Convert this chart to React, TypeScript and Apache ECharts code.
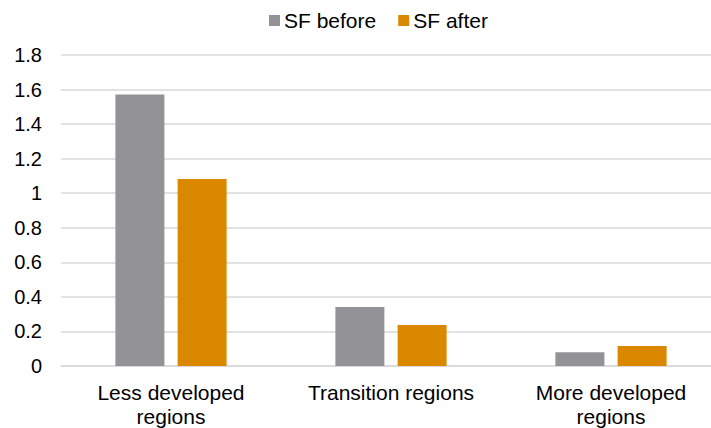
import React, { useEffect, useRef } from "react";
import * as echarts from "echarts";

const categories = ["Less developed\nregions", "Transition regions", "More developed\nregions"];
const seriesNames = ["SF before", "SF after"];
const sfBefore = [1.572, 0.342, 0.08];
const sfAfter = [1.083, 0.238, 0.116];
const yTicks = { min: 0, max: 1.8, interval: 0.2 };

const FONT = "'Liberation Sans', Arial, sans-serif";

export default function App() {
  const ref = useRef<HTMLDivElement>(null);
  useEffect(() => {
    if (!ref.current) return;
    const chart = echarts.init(ref.current, null, { renderer: "svg" });
    chart.setOption({
      animation: false,
      backgroundColor: "#ffffff",
      textStyle: { fontFamily: FONT },
      legend: {
        left: 269,
        top: 10,
        padding: 0,
        itemWidth: 11,
        itemHeight: 11,
        itemGap: 22,
        icon: "rect",
        textStyle: { fontSize: 21, color: "#000000", fontFamily: FONT, padding: [0, 0, 0, -1] },
        data: seriesNames,
      },
      grid: {
        left: 61,
        right: -10,
        top: 55,
        bottom: 62,
        containLabel: false,
        outerBoundsMode: "none",
      },
      xAxis: {
        type: "category",
        data: categories,
        axisLine: { show: true, lineStyle: { color: "#d9d9d9", width: 1.5 } },
        axisTick: { show: false },
        axisLabel: {
          fontSize: 21,
          color: "#000000",
          fontFamily: FONT,
          margin: 14,
          lineHeight: 24,
          interval: 0,
        },
      },
      yAxis: {
        type: "value",
        min: yTicks.min,
        max: yTicks.max,
        interval: yTicks.interval,
        axisLine: { show: false },
        axisTick: { show: false },
        splitLine: { show: true, lineStyle: { color: "#d9d9d9", width: 1.5 } },
        axisLabel: {
          fontSize: 20,
          color: "#000000",
          fontFamily: FONT,
          margin: 19,
          formatter: (v: number) => String(Math.round(v * 10) / 10),
        },
      },
      series: [
        {
          name: seriesNames[0],
          type: "bar",
          data: sfBefore,
          barWidth: 49,
          barGap: "27%",
          itemStyle: { color: "#939397" },
        },
        {
          name: seriesNames[1],
          type: "bar",
          data: sfAfter,
          barWidth: 49,
          barGap: "27%",
          itemStyle: { color: "#d98800" },
        },
      ],
    });
    return () => chart.dispose();
  }, []);
  return (
    <div
      ref={ref}
      style={{ position: "fixed", left: 0, top: 0, width: 711, height: 428 }}
    />
  );
}
